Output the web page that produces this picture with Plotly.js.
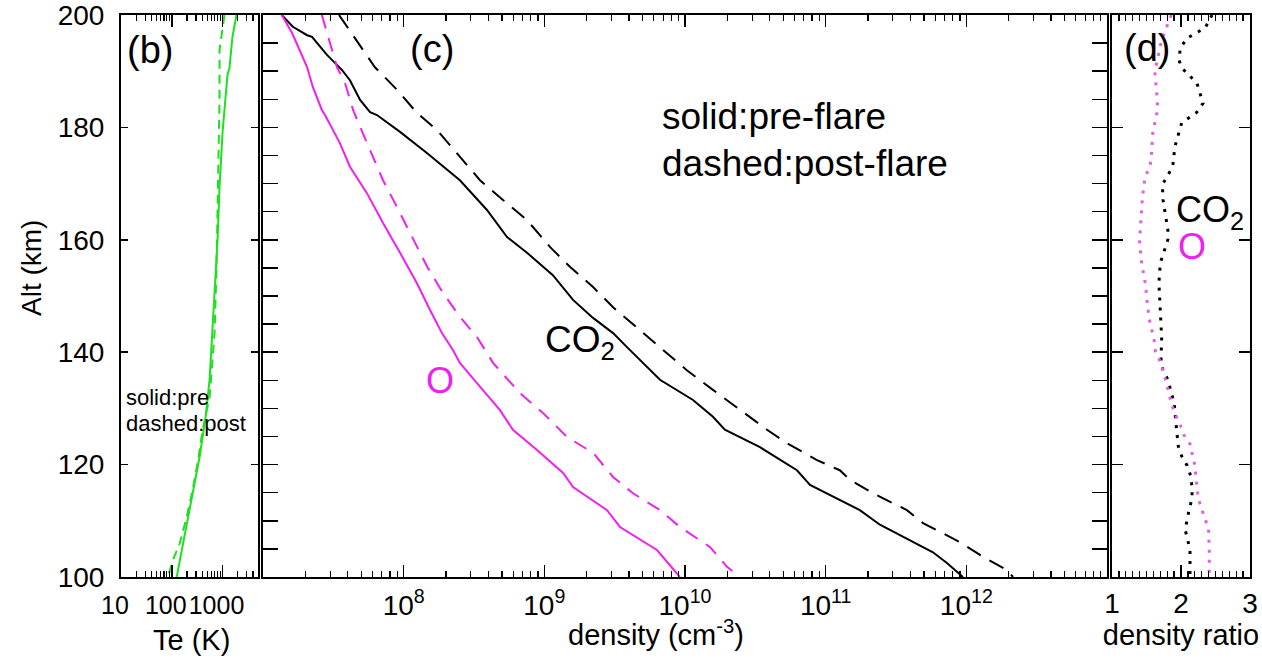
<!DOCTYPE html>
<html>
<head>
<meta charset="utf-8">
<script src="https://cdn.plot.ly/plotly-3.0.1.min.js"></script>
<style>html,body{margin:0;padding:0;background:#fff;}#chart{width:1262px;height:667px;}</style>
</head>
<body>
<div id="chart"></div>
<script>
// ---------- Panel (b): electron temperature ----------
const altTePre  = [200, 196.1, 190.6, 189.3, 179.0, 169.4, 160.0, 151.1, 142.7, 135.1, 128.5, 121.4, 116.7, 109.6, 100];
const tePre     = [1880, 1570, 1370, 1250, 1000, 873, 798, 697, 608, 556, 465, 354, 282, 197, 125];
const altTePost = [200, 193.8, 184.9, 173.0, 167.1, 155.2, 143.4, 132.0, 126.2, 120.3, 115.5, 110.7, 106.0, 103.0, 100];
const tePost    = [1090, 873, 873, 836, 798, 762, 697, 556, 406, 324, 258, 197, 144, 105, 84];

// ---------- Panel (c): densities (cm^-3) ----------
const altCO2Pre = [200, 197.9, 196.4, 196.1, 192.9, 190.2, 188.4, 184.9, 182.7, 182.2, 179.2, 175.4, 170.6, 165.3, 160.5, 157.7, 153.7, 149.3, 146.1, 143.4, 140.9, 135.1, 131.5, 128.5, 126.2, 123.1, 119.0, 116.4, 111.9, 109.3, 104.4, 102.5, 100];
const nCO2Pre   = [1.36e7, 1.63e7, 2.06e7, 2.23e7, 2.85e7, 3.65e7, 4.15e7, 4.90e7, 5.77e7, 6.46e7, 9.42e7, 1.47e8, 2.51e8, 3.91e8, 5.43e8, 7.53e8, 1.15e9, 1.60e9, 2.22e9, 3.08e9, 3.87e9, 6.64e9, 1.14e10, 1.58e10, 1.92e10, 3.41e10, 6.25e10, 7.74e10, 1.75e11, 2.43e11, 5.79e11, 7.28e11, 9.46e11];
const altCO2Post = [200, 196.4, 190.7, 186.7, 182.6, 179.5, 174.7, 170.6, 167.1, 163.5, 158.7, 155.2, 151.6, 148.0, 143.9, 140.9, 136.8, 133.3, 129.7, 126.2, 123.8, 120.8, 119.0, 117.3, 114.9, 111.9, 109.6, 106.2, 103.6, 101.2, 100];
const nCO2Post   = [3.47e7, 4.37e7, 6.25e7, 8.97e7, 1.24e8, 1.73e8, 2.51e8, 3.49e8, 5.08e8, 7.53e8, 1.10e9, 1.52e9, 2.22e9, 3.08e9, 4.79e9, 6.64e9, 1.03e10, 1.58e10, 2.46e10, 3.83e10, 5.31e10, 8.67e10, 1.26e11, 1.49e11, 2.17e11, 3.78e11, 4.92e11, 9.02e11, 1.31e12, 1.95e12, 2.15e12];
const altOPre = [200, 196.8, 190.7, 187.2, 183.1, 182.2, 177.2, 173.0, 168.3, 163.0, 157.7, 152.3, 147.5, 143.4, 140.4, 138.1, 134.5, 129.7, 126.2, 122.6, 118.5, 116.0, 111.9, 108.9, 104.8, 100];
const nOPre   = [1.36e7, 1.61e7, 2.06e7, 2.26e7, 2.62e7, 2.76e7, 3.52e7, 4.15e7, 5.48e7, 7.13e7, 9.42e7, 1.24e8, 1.54e8, 1.87e8, 2.24e8, 2.51e8, 3.32e8, 4.84e8, 5.98e8, 8.87e8, 1.36e9, 1.60e9, 2.79e9, 3.45e9, 6.32e9, 9.20e9];
const altOPost = [200, 190.7, 187.9, 183.1, 180.1, 176.0, 170.6, 165.8, 161.2, 155.2, 150.5, 146.3, 142.7, 138.1, 132.7, 129.2, 124.9, 122.1, 117.8, 114.9, 111.9, 108.9, 105.3, 101.8, 100];
const nOPost   = [2.62e7, 3.36e7, 3.83e7, 4.37e7, 4.90e7, 5.77e7, 7.13e7, 8.97e7, 1.11e8, 1.47e8, 1.91e8, 2.51e8, 3.32e8, 4.32e8, 6.71e8, 9.77e8, 1.45e9, 2.22e9, 3.08e9, 4.27e9, 6.64e9, 9.20e9, 1.51e10, 1.99e10, 2.46e10];

// ---------- Panel (d): post/pre density ratio ----------
const altRatioCO2 = [200, 197.7, 195.9, 194.1, 192.0, 190.6, 187.9, 184.3, 182.7, 180.8, 176.5, 173.0, 169.8, 167.1, 161.7, 160.0, 155.9, 152.3, 142.5, 138.5, 136.7, 134.9, 133.1, 131.1, 127.0, 123.3, 121.5, 119.8, 118.0, 116.0, 114.0, 112.1, 108.4, 106.5, 104.5, 100];
const ratioCO2    = [2.45, 2.35, 2.09, 1.99, 1.97, 2.01, 2.23, 2.32, 2.23, 2.01, 1.91, 1.88, 1.73, 1.74, 1.81, 1.81, 1.70, 1.68, 1.72, 1.71, 1.74, 1.82, 1.85, 1.90, 1.93, 1.96, 2.01, 2.09, 2.14, 2.16, 2.16, 2.12, 2.06, 2.10, 2.13, 2.13];
const altRatioO = [200, 195.6, 189.9, 186.4, 184.6, 182.5, 178.9, 174.8, 173.0, 171.2, 167.4, 161.7, 159.7, 155.8, 151.7, 149.9, 145.9, 142.2, 140.1, 138.3, 134.5, 130.9, 129.1, 127.0, 125.3, 123.7, 121.7, 119.9, 116.0, 114.0, 112.1, 110.1, 108.5, 104.5, 100];
const ratioO    = [1.86, 1.72, 1.62, 1.64, 1.66, 1.65, 1.59, 1.57, 1.55, 1.48, 1.44, 1.41, 1.40, 1.43, 1.49, 1.50, 1.54, 1.61, 1.63, 1.70, 1.79, 1.86, 1.91, 1.99, 2.04, 2.13, 2.17, 2.20, 2.23, 2.25, 2.30, 2.36, 2.40, 2.41, 2.41];

// ---------- Tick labels ----------
const teTickVals = [10, 100, 1000];
const teTickText = ['10', '100', '1000'];
const nTickVals = [1e8, 1e9, 1e10, 1e11, 1e12];
const nTickText = ['10<sup>8</sup>', '10<sup>9</sup>', '10<sup>10</sup>', '10<sup>11</sup>', '10<sup>12</sup>'];
const rTickVals = [1, 2, 3];
const rTickText = ['1', '2', '3'];
const altTickVals = [100, 120, 140, 160, 180, 200];

const FONT = 'Liberation Sans, Arial, Helvetica, sans-serif';
const GREEN = '#1ee01e', MAG = '#f020f0', BLK = '#000000';
const W = 1262, H = 667;
const px = v => v / W, py = v => 1 - v / H;
const yDom = [py(577), py(15)];

const traces = [
  {x: tePre, y: altTePre, xaxis: 'x', yaxis: 'y', mode: 'lines', line: {color: GREEN, width: 2}},
  {x: tePost, y: altTePost, xaxis: 'x', yaxis: 'y', mode: 'lines', line: {color: GREEN, width: 2, dash: '9px,6px'}},
  {x: nCO2Pre, y: altCO2Pre, xaxis: 'x2', yaxis: 'y2', mode: 'lines', line: {color: BLK, width: 2}},
  {x: nCO2Post, y: altCO2Post, xaxis: 'x2', yaxis: 'y2', mode: 'lines', line: {color: BLK, width: 2, dash: '16px,10px'}},
  {x: nOPre, y: altOPre, xaxis: 'x2', yaxis: 'y2', mode: 'lines', line: {color: MAG, width: 2}},
  {x: nOPost, y: altOPost, xaxis: 'x2', yaxis: 'y2', mode: 'lines', line: {color: MAG, width: 2, dash: '14px,10px'}},
  {x: ratioCO2, y: altRatioCO2, xaxis: 'x3', yaxis: 'y3', mode: 'lines', line: {color: BLK, width: 3, dash: '3px,7px'}},
  {x: ratioO, y: altRatioO, xaxis: 'x3', yaxis: 'y3', mode: 'lines', line: {color: '#e060e0', width: 3, dash: '3px,7px'}}
];

const axBase = {showline: true, linewidth: 2, linecolor: BLK, mirror: 'ticks', ticks: 'inside',
  tickcolor: BLK, tickwidth: 1.5, showgrid: false, zeroline: false, automargin: false, tickangle: 0,
  ticklabeloverflow: 'allow',
  tickfont: {family: FONT, size: 28, color: BLK}};

function ann(text, x, y, size, opts) {
  return Object.assign({text: text, x: px(x), y: py(y), xref: 'paper', yref: 'paper',
    xanchor: 'center', yanchor: 'middle', showarrow: false,
    font: {family: FONT, size: size, color: BLK}}, opts || {});
}

const layout = {
  width: W, height: H,
  margin: {l: 0, r: 0, t: 0, b: 0},
  paper_bgcolor: '#fff', plot_bgcolor: '#fff',
  showlegend: false,
  font: {family: FONT, color: BLK},
  xaxis: Object.assign({}, axBase, {
    type: 'log', range: [1, Math.log10(5000)], domain: [px(121), px(258)], anchor: 'y',
    tickmode: 'array', tickvals: teTickVals, ticktext: teTickText, ticklen: 12, ticklabelstandoff: 5,
    ticklabelshift: -6, tickfont: {family: FONT, size: 25, color: BLK},
    minor: {ticks: 'inside', ticklen: 6, dtick: 'D1', tickcolor: BLK, tickwidth: 1.2, showgrid: false}
  }),
  yaxis: Object.assign({}, axBase, {
    range: [100, 200], domain: yDom, anchor: 'x',
    tickmode: 'array', tickvals: altTickVals, ticklen: 7, ticklabelstandoff: 9
  }),
  xaxis2: Object.assign({}, axBase, {
    type: 'log', range: [7, 13], domain: [px(263), px(1107)], anchor: 'y2',
    tickmode: 'array', tickvals: nTickVals, ticktext: nTickText, ticklen: 12, ticklabelstandoff: 2,
    minor: {ticks: 'inside', ticklen: 6, dtick: 'D1', tickcolor: BLK, tickwidth: 1.2, showgrid: false}
  }),
  yaxis2: Object.assign({}, axBase, {
    range: [100, 200], domain: yDom, anchor: 'x2', dtick: 5, ticklen: 15, showticklabels: false
  }),
  xaxis3: Object.assign({}, axBase, {
    range: [1, 3], domain: [px(1112), px(1250)], anchor: 'y3',
    tickmode: 'array', tickvals: rTickVals, ticktext: rTickText, ticklen: 12, ticklabelstandoff: 0,
    minor: {ticks: 'inside', ticklen: 6, dtick: 0.1, tickcolor: BLK, tickwidth: 1.2, showgrid: false},
    title: {text: 'density ratio', font: {family: FONT, size: 29, color: BLK}, standoff: 4}
  }),
  yaxis3: Object.assign({}, axBase, {
    range: [100, 200], domain: yDom, anchor: 'x3', tickmode: 'array', tickvals: altTickVals, ticklen: 11, showticklabels: false
  }),
  annotations: [
    ann('Alt (km)', 31, 268, 28, {textangle: -90}),
    ann('Te (K)', 191, 640, 29),
    ann('density (cm<sup>-3</sup>)', 656, 633, 29),
    ann('(b)', 125, 50, 38, {xanchor: 'left'}),
    ann('(c)', 432, 49, 38),
    ann('(d)', 1122, 48, 38, {xanchor: 'left'}),
    ann('solid:pre-flare', 660, 116, 37, {xanchor: 'left'}),
    ann('dashed:post-flare', 660, 163, 37, {xanchor: 'left'}),
    ann('CO<sub>2</sub>', 543, 342, 37, {xanchor: 'left'}),
    ann('O', 440, 380, 36, {font: {family: FONT, size: 36, color: MAG}}),
    ann('solid:pre', 124, 398, 22, {xanchor: 'left'}),
    ann('dashed:post', 124, 423, 22, {xanchor: 'left'}),
    ann('CO<sub>2</sub>', 1174, 212, 36, {xanchor: 'left'}),
    ann('O', 1176, 247, 36, {xanchor: 'left', font: {family: FONT, size: 36, color: MAG}})
  ]
};

Plotly.newPlot('chart', traces, layout, {staticPlot: true, displayModeBar: false});
</script>
</body>
</html>
